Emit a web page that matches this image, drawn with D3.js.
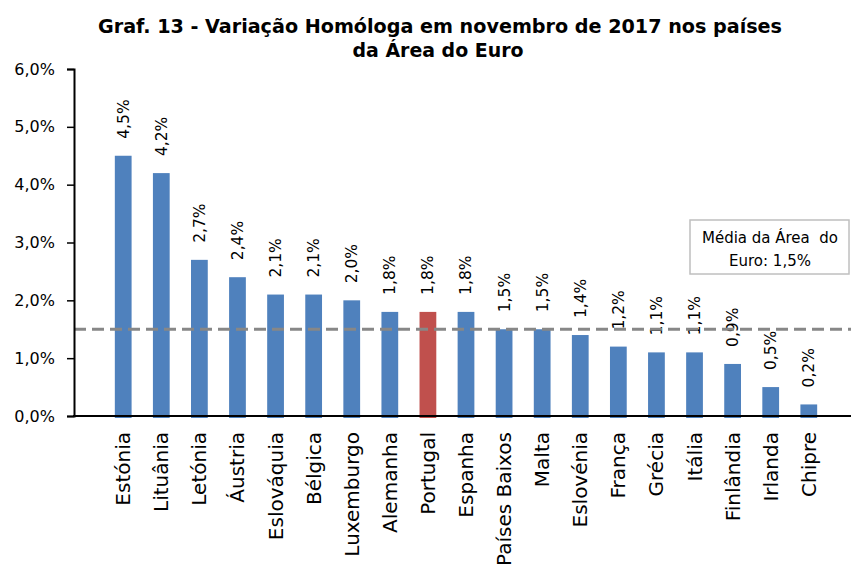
<!DOCTYPE html>
<html>
<head>
<meta charset="utf-8">
<script src="https://cdn.jsdelivr.net/npm/d3@7"></script>
<style>
  body { margin: 0; background: #fff; }
  text { font-family: "DejaVu Sans", Verdana, sans-serif; fill: #000; }
</style>
</head>
<body>
<svg id="chart" width="851" height="570"></svg>
<script>
// data
const countries = ['Estónia', 'Lituânia', 'Letónia', 'Áustria', 'Eslováquia', 'Bélgica', 'Luxemburgo',
  'Alemanha', 'Portugal', 'Espanha', 'Países Baixos', 'Malta', 'Eslovénia', 'França', 'Grécia',
  'Itália', 'Finlândia', 'Irlanda', 'Chipre'];
const values = [4.5, 4.2, 2.7, 2.4, 2.1, 2.1, 2.0, 1.8, 1.8, 1.8, 1.5, 1.5, 1.4, 1.2, 1.1, 1.1, 0.9, 0.5, 0.2];
const highlight = 'Portugal';
const euroAverage = 1.5;
const yTicks = [0, 1, 2, 3, 4, 5, 6];
const titleLines = ['Graf. 13 - Variação Homóloga em novembro de 2017 nos países', 'da Área do Euro'];
const noteLines = ['Média da Área  do', 'Euro: 1,5%'];

const fmt = v => d3.format('.1f')(v).replace('.', ',') + '%';

const svg = d3.select('#chart');
const data = countries.map((c, i) => ({name: c, value: values[i]}));

const axisX = 74, plotRight = 851;
const x = d3.scaleBand().domain(countries).range([93.5, 838.5]).padding(0.56);
const y = d3.scaleLinear().domain([0, 6]).range([416, 69]);

/////title/////
svg.append('text').text(titleLines[0])
  .attr('x', 440).attr('y', 33).attr('text-anchor', 'middle')
  .attr('textLength', 684).attr('lengthAdjust', 'spacingAndGlyphs')
  .style('font-family', '"DejaVu Sans Condensed", "DejaVu Sans", sans-serif')
  .style('font-weight', 'bold').style('font-size', '20px');
svg.append('text').text(titleLines[1])
  .attr('x', 438).attr('y', 57).attr('text-anchor', 'middle')
  .attr('textLength', 171).attr('lengthAdjust', 'spacingAndGlyphs')
  .style('font-family', '"DejaVu Sans Condensed", "DejaVu Sans", sans-serif')
  .style('font-weight', 'bold').style('font-size', '20px');

/////bars/////
svg.append('g').selectAll('rect').data(data).enter().append('rect')
  .attr('x', d => x(d.name))
  .attr('width', x.bandwidth())
  .attr('y', d => y(d.value))
  .attr('height', d => y(0) - y(d.value) + 2)
  .attr('fill', d => d.name === highlight ? '#C0504D' : '#4F81BD');

/////value labels/////
svg.append('g').selectAll('text').data(data).enter().append('text')
  .text(d => fmt(d.value))
  .attr('transform', d => 'translate(' + (x(d.name) + x.bandwidth() / 2) + ',' + (y(d.value) - 17) + ') rotate(-90)')
  .attr('dy', '0.35em')
  .attr('text-anchor', 'start')
  .style('font-size', '15.5px');

/////average line/////
svg.append('line')
  .attr('x1', axisX).attr('x2', plotRight)
  .attr('y1', y(euroAverage)).attr('y2', y(euroAverage))
  .attr('stroke', '#878787').attr('stroke-width', 3)
  .attr('stroke-dasharray', '12,6');

/////y axis/////
const yAxis = d3.axisLeft(y).tickValues(yTicks).tickSize(7).tickPadding(12).tickFormat(fmt);
const yG = svg.append('g').attr('transform', 'translate(' + axisX + ',0)').call(yAxis);
yG.select('.domain').attr('stroke', '#000').attr('stroke-width', 2);
yG.selectAll('.tick line').attr('stroke', '#000').attr('stroke-width', 1.5);
yG.selectAll('.tick text')
  .style('font-family', '"DejaVu Sans", Verdana, sans-serif').style('font-size', '16px').attr('fill', '#000');

/////x axis/////
svg.append('line')
  .attr('x1', axisX - 1).attr('x2', plotRight)
  .attr('y1', y(0)).attr('y2', y(0))
  .attr('stroke', '#000').attr('stroke-width', 2);

svg.append('g').selectAll('text').data(countries).enter().append('text')
  .text(d => d)
  .attr('transform', d => 'translate(' + (x(d) + x.bandwidth() / 2) + ',432) rotate(-90)')
  .attr('dy', '0.35em')
  .attr('text-anchor', 'end')
  .style('font-size', '20px');

/////note box/////
const note = svg.append('g').attr('transform', 'translate(690,220)');
note.append('rect').attr('width', 159).attr('height', 54)
  .attr('fill', '#fff').attr('stroke', '#BFBFBF').attr('stroke-width', 1.5);
note.selectAll('text').data(noteLines).enter().append('text')
  .text(d => d)
  .attr('x', 80).attr('y', (d, i) => 23 + i * 23)
  .attr('text-anchor', 'middle')
  .style('white-space', 'pre')
  .style('font-size', '15px');
</script>
</body>
</html>
